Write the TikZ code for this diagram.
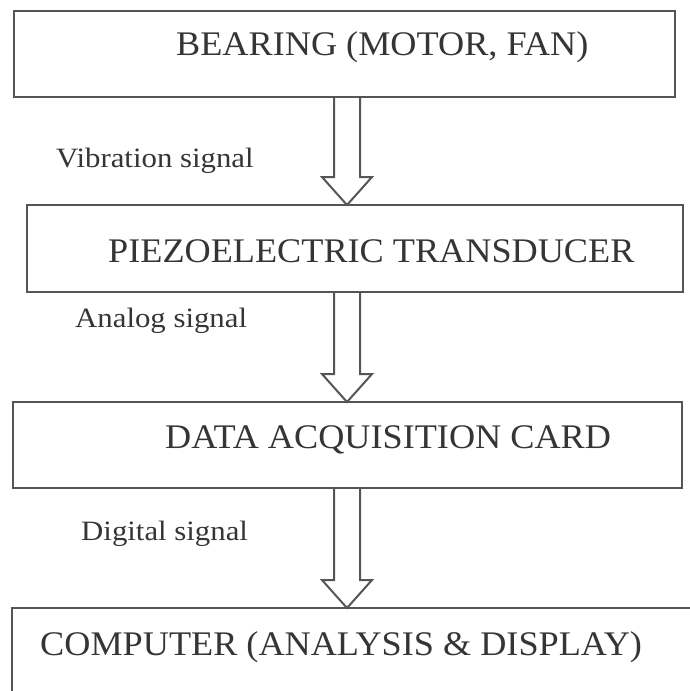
\documentclass[tikz,border=0pt]{standalone}
\usepackage{fontspec}
\setmainfont[FakeStretch=1.05]{Liberation Serif}
\newfontfamily\signalfont[FakeStretch=1.1]{Liberation Serif}
\usetikzlibrary{calc}
\definecolor{ink}{HTML}{353535}
\definecolor{frame}{HTML}{555555}

\begin{document}
\begin{tikzpicture} [
        x=1pt, y=-1pt,
        block/.style={rectangle,draw=frame,line width=2.2pt,inner sep=0pt,outer sep=0pt},
        block text/.style={anchor=base west,inner sep=0pt,text=ink,font=\fontsize{34.5}{36}\selectfont},
        signal/.style={anchor=base west,inner sep=0pt,text=ink,font=\signalfont\fontsize{28}{30}\selectfont},
        hollow arrow/.style={draw=frame,line width=2pt,line join=miter},
    ]
    \fill[white] (0,0) rectangle (690,691);
    \useasboundingbox (0,0) rectangle (690,691);
    \clip (0,0) rectangle (690,691);
    \coordinate (axis) at (347,0);
    % First we draw the boxes
    \foreach \pos/\name/\w/\h in {
            {(344.5,54)/bearing/661/86},
            {(355,248.5)/piezo/656/87},
            {(347.5,445)/daq/669/86},
            {(361,654)/computer/698/92}}
        \node[block,minimum width=\w pt,minimum height=\h pt] (\name) at \pos {};
    % Then the text inside the boxes
    \foreach \pos/\name/\txt in {
            {(176,55)/bearing-t/BEARING (MOTOR, FAN)},
            {(108,262)/piezo-t/PIEZOELECTRIC TRANSDUCER},
            {(165,448)/daq-t/DATA ACQUISITION CARD},
            {(40,655)/computer-t/COMPUTER (ANALYSIS \& DISPLAY)}}
        \node[block text] (\name) at \pos {\txt};
    % Signal names beside the arrows
    \foreach \pos/\name/\txt in {
            {(56,167)/vibration/Vibration signal},
            {(75,327)/analog/Analog signal},
            {(81,540)/digital/Digital signal}}
        \node[signal] (\name) at \pos {\txt};
    % Connect the boxes with hollow arrows
    \foreach \source/\dest in {
            bearing/piezo,
            piezo/daq,
            daq/computer}
        \draw[hollow arrow] ($(\source.south -| axis)+(-13,0)$)
            -- ($(\dest.north -| axis)+(-13,-28)$) -- ($(\dest.north -| axis)+(-25,-28)$)
            -- (\dest.north -| axis)
            -- ($(\dest.north -| axis)+(25,-28)$) -- ($(\dest.north -| axis)+(13,-28)$)
            -- ($(\source.south -| axis)+(13,0)$);
\end{tikzpicture}
\end{document}
